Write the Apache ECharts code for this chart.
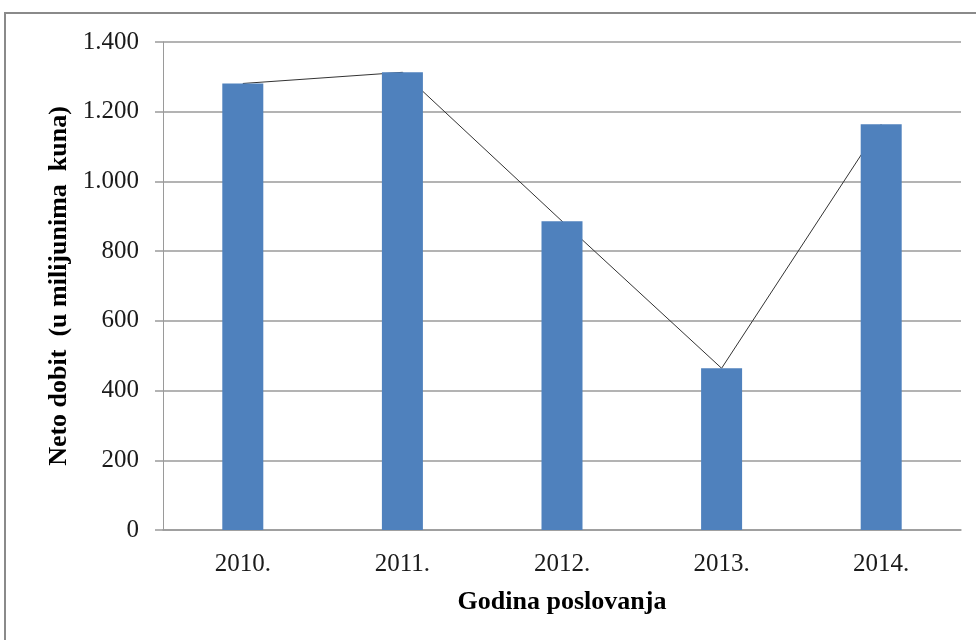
<!DOCTYPE html>
<html><head><meta charset="utf-8">
<script src="https://cdn.jsdelivr.net/npm/echarts@6/dist/echarts.min.js"></script>
<style>html,body{margin:0;padding:0;background:#fff}#c{width:976px;height:640px}</style>
</head><body><div id="c"></div>
<script>
var categories = ['2010.', '2011.', '2012.', '2013.', '2014.'];
var netoDobit = [1281, 1313, 886, 464, 1164];
var yTicks = [0, 200, 400, 600, 800, 1000, 1200, 1400];

var chart = echarts.init(document.getElementById('c'));
var serif = '"Liberation Serif", "Times New Roman", serif';
chart.setOption({
  animation: false,
  backgroundColor: '#fff',
  graphic: [{
    type: 'rect', shape: {x: 5, y: 13, width: 1100, height: 800},
    style: {fill: 'none', stroke: '#8a8a8a', lineWidth: 2}, silent: true
  }],
  grid: {left: 163, right: 15, top: 42, bottom: 110},
  xAxis: {
    type: 'category', data: categories,
    axisLine: {lineStyle: {color: '#9a9a9a', width: 1.5}},
    axisTick: {show: false},
    axisLabel: {fontFamily: serif, fontSize: 25, color: '#1a1a1a', margin: 22},
    name: 'Godina poslovanja', nameLocation: 'middle', nameGap: 59,
    nameTextStyle: {fontFamily: serif, fontSize: 26, fontWeight: 'bold', color: '#000'}
  },
  yAxis: {
    type: 'value', min: 0, max: 1400, interval: 200,
    axisLine: {show: true, lineStyle: {color: '#9a9a9a', width: 1}},
    axisTick: {show: true, length: 8, inside: false, lineStyle: {color: '#9a9a9a', width: 1.5}},
    splitLine: {lineStyle: {color: '#9a9a9a', width: 1.5}},
    axisLabel: {
      fontFamily: serif, fontSize: 25, color: '#1a1a1a', margin: 24,
      formatter: function (v) { return yTicks.indexOf(v) >= 0 ? v.toLocaleString('de-DE') : ''; }
    },
    name: 'Neto dobit  (u milijunima  kuna)', nameLocation: 'middle', nameGap: 90,
    nameTextStyle: {fontFamily: serif, fontSize: 26, fontWeight: 'bold', color: '#000'}
  },
  series: [{
    type: 'line', data: netoDobit, z: 1, symbol: 'none',
    lineStyle: {color: '#333333', width: 1}
  }, {
    type: 'bar', data: netoDobit, z: 3, barWidth: 41,
    itemStyle: {color: '#4f81bd'}
  }]
});
</script></body></html>
